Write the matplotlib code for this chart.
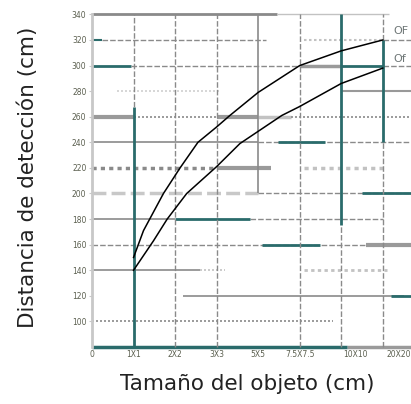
import matplotlib
matplotlib.use("Agg")
import matplotlib.pyplot as plt
import matplotlib.transforms as mtransforms

# Object size categories (x axis) and distance ticks (y axis)
size_labels = ["0", "1X1", "2X2", "3X3", "5X5", "7.5X7.5", "10X10", "20X20"]
distance_ticks = [100, 120, 140, 160, 180, 200, 220, 240, 260, 280, 300, 320, 340]

# Detection distance curves (position on size axis, distance in cm)
upper_pos = [1.0, 1.24, 1.72, 2.12, 2.55, 3.0, 3.32, 4.0, 5.0, 6.0, 7.0]
upper_cm = [150, 171, 200, 220, 240, 252, 261, 279, 300, 311.5, 320]
lower_pos = [1.0, 1.48, 1.81, 2.28, 3.0, 3.56, 4.57, 5.0, 6.0, 7.0]
lower_cm = [140, 163, 180, 200, 221, 239, 261, 268, 286, 298]
curve_names = ["OF", "Of"]

TEAL = "#2a6b6b"
GRAY = "#8a8a8a"
LGRAY = "#c2c2c2"
DASH = (0, (4, 1.5))
DOT = (0, (1.2, 1.2))

fig = plt.figure(figsize=(4.11, 4.04), dpi=100)
ax = fig.add_axes([92 / 411, 57 / 404, (411 - 92) / 411, (389.6 - 57) / 404])
ax.set_xlim(0, 7.68)
ax.set_ylim(80, 340)

# Horizontal reference segments: (y, x0, x1, color, lw, style)
hsegs = [
    (340, 0, 4.45, GRAY, 2.0, "-"), (340, 4.45, 7.15, LGRAY, 1.0, "-"),
    (320, 0, 0.25, TEAL, 1.5, "-"), (320, 0.25, 4.2, GRAY, 1.0, DASH),
    (320, 5.1, 7.0, LGRAY, 1.5, DOT), (320, 7.0, 7.68, GRAY, 1.0, DASH),
    (300, 0, 0.95, TEAL, 2.0, "-"), (300, 0.95, 5.0, GRAY, 1.0, DASH),
    (300, 5.0, 6.0, "#9a9a9a", 2.5, "-"), (300, 6.0, 7.0, TEAL, 2.0, "-"),
    (300, 7.0, 7.68, GRAY, 1.0, DASH),
    (280, 0.6, 3.1, "#d0d0d0", 1.2, DOT), (280, 6.0, 7.68, "#999999", 1.5, "-"),
    (260, 0, 1.0, "#9a9a9a", 3.0, "-"), (260, 1.0, 3.0, GRAY, 1.2, DOT),
    (260, 3.0, 4.0, "#9a9a9a", 3.0, "-"), (260, 4.0, 4.8, LGRAY, 2.5, "-"),
    (260, 4.8, 7.68, GRAY, 1.2, DOT),
    (240, 0, 4.0, GRAY, 1.2, "-"), (240, 4.0, 7.68, GRAY, 1.0, DASH),
    (220, 0, 3.0, GRAY, 2.5, DOT), (220, 3.0, 4.3, "#9a9a9a", 3.0, "-"),
    (220, 5.1, 7.1, LGRAY, 2.5, DOT),
    (200, 0, 4.0, "#c8c8c8", 2.5, DASH), (200, 4.0, 7.68, GRAY, 1.0, DASH),
    (180, 0, 2.0, GRAY, 1.2, "-"), (180, 3.8, 7.0, GRAY, 1.0, DASH),
    (160, 0, 7.68, GRAY, 1.0, DASH), (160, 6.6, 7.68, "#9a9a9a", 3.0, "-"),
    (140, 0, 2.6, GRAY, 1.2, "-"), (140, 2.6, 3.2, LGRAY, 1.2, DOT),
    (140, 5.1, 7.1, LGRAY, 2.0, DOT),
    (120, 2.2, 7.5, GRAY, 1.2, "-"),
    (100, 0, 5.8, GRAY, 1.2, DOT),
    (80, 6.15, 7.68, "#9a9a9a", 2.5, "-"),
    # teal highlights
    (240, 4.48, 5.6, TEAL, 2.0, "-"), (200, 6.5, 7.68, TEAL, 2.0, "-"),
    (180, 2.0, 3.8, TEAL, 2.0, "-"), (160, 4.1, 5.5, TEAL, 2.0, "-"),
    (120, 7.2, 7.68, TEAL, 2.0, "-"), (80, 0, 6.15, TEAL, 2.5, "-"),
]
for y, x0, x1, c, lw, ls in hsegs:
    ax.plot([x0, x1], [y, y], color=c, lw=lw, ls=ls, solid_capstyle="butt",
            zorder=1, clip_on=False)

# Vertical reference segments: (x, y0, y1, color, lw, style)
vsegs = [
    (1, 80, 268, TEAL, 2.0, "-"), (1, 268, 340, GRAY, 1.0, DASH),
    (2, 80, 340, GRAY, 1.0, DASH), (3, 80, 340, GRAY, 1.0, DASH),
    (4, 200, 340, GRAY, 1.2, "-"), (5, 80, 340, GRAY, 1.0, DASH),
    (6, 175, 340, TEAL, 2.0, "-"), (6, 80, 175, GRAY, 1.0, DASH),
    (7, 320, 340, GRAY, 1.0, DASH), (7, 240, 320, TEAL, 2.0, "-"),
    (7, 80, 240, GRAY, 1.0, DASH),
]
for x, y0, y1, c, lw, ls in vsegs:
    ax.plot([x, x], [y0, y1], color=c, lw=lw, ls=ls, solid_capstyle="butt",
            zorder=1, clip_on=False)

# Detection distance curves
ax.plot(upper_pos, upper_cm, color="black", lw=1.1, zorder=3)
ax.plot(lower_pos, lower_cm, color="black", lw=1.1, zorder=3)
ax.text(7.26, upper_cm[-1] + 7, curve_names[0], color="#6f7777", fontsize=8,
        va="center", ha="left", clip_on=False)
ax.text(7.26, lower_cm[-1] + 7, curve_names[1], color="#6f7777", fontsize=8,
        va="center", ha="left", clip_on=False)

# Axes styling
for side in ["top", "right", "bottom"]:
    ax.spines[side].set_visible(False)
ax.spines["left"].set_color("#c8c8c8")
ax.spines["left"].set_linewidth(2)

ax.set_yticks(distance_ticks)
ax.set_yticklabels([str(v) for v in distance_ticks], fontsize=5.5,
                   color="#5b5f4f", family="Liberation Sans Narrow")
ax.tick_params(axis="y", length=2, color="#c8c8c8", pad=2)
ax.set_xticks(range(len(size_labels)))
ax.set_xticklabels(size_labels, fontsize=5.5, color="#5b5f4f",
                   family="Liberation Sans Narrow")
ax.tick_params(axis="x", length=0, pad=2)
# the two widest labels sit slightly right of their ticks
for lbl, dx in zip(ax.get_xticklabels()[-2:], [14, 16]):
    lbl.set_transform(lbl.get_transform() +
                      mtransforms.ScaledTranslation(dx / 100, 0, fig.dpi_scale_trans))

fig.text(28 / 411, 1 - 177 / 404, "Distancia de detección (cm)", rotation=90,
         ha="center", va="center", fontsize=15.5, color="#222222")
fig.text(247 / 411, 1 - 384 / 404, "Tamaño del objeto (cm)",
         ha="center", va="center", fontsize=15.5, color="#222222")

fig.savefig("out.png", dpi=100)
